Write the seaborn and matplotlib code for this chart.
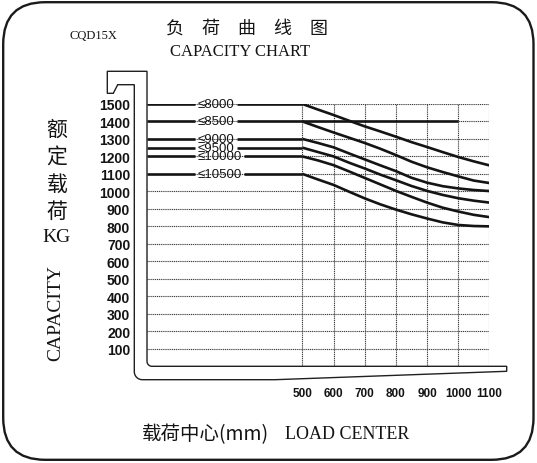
import numpy as np
import pandas as pd
import matplotlib
matplotlib.use("Agg")
import matplotlib.pyplot as plt
import matplotlib.patches as mpatches
from matplotlib.transforms import IdentityTransform
import seaborn as sns

# ---------------- data ----------------
LOAD_CENTER = [500, 550, 600, 650, 700, 750, 800, 850, 900, 950, 1000, 1050, 1100]
SERIES_LABELS = ["≤8000", "≤8500", "≤9000", "≤9500", "≤10000", "≤10500"]
CAP_8000 = [1500, 1468, 1437, 1404, 1372, 1343, 1313, 1282, 1254, 1225, 1197, 1172, 1149]
CAP_8500 = [1400, 1368, 1337, 1307, 1277, 1244, 1208, 1170, 1138, 1111, 1086, 1062, 1048]
CAP_9000 = [1300, 1277, 1252, 1217, 1183, 1149, 1116, 1078, 1050, 1030, 1017, 1008, 1002]
CAP_9500 = [1250, 1225, 1200, 1164, 1131, 1096, 1064, 1031, 1003, 980, 961, 947, 936]
CAP_10000 = [1200, 1177, 1150, 1114, 1077, 1040, 1003, 969, 936, 907, 885, 866, 853]
CAP_10500 = [1100, 1068, 1037, 998, 960, 926, 896, 869, 845, 823, 808, 802, 800]
FLAT_8500_END = 1000

X_TICKS = [500, 600, 700, 800, 900, 1000, 1100]
Y_TICKS = [100, 200, 300, 400, 500, 600, 700, 800, 900, 1000,
           1100, 1200, 1300, 1400, 1500]

MODEL = "CQD15X"
TITLE_CN = "负\u3000荷\u3000曲\u3000线\u3000图"
TITLE_EN = "CAPACITY CHART"
YLABEL_CN = ["额", "定", "载", "荷"]
YLABEL_UNIT = "KG"
YLABEL_EN = "CAPACITY"
XLABEL_CN = "载荷中心(mm)"
XLABEL_EN = "LOAD CENTER"

CAPS = [CAP_8000, CAP_8500, CAP_9000, CAP_9500, CAP_10000, CAP_10500]

# ---------------- style ----------------
W, H = 537, 464
sns.set_theme(style="white")
plt.rcParams["font.family"] = ["Liberation Sans", "DejaVu Sans"]
CJK = ["Noto Sans CJK SC", "DejaVu Sans"]
SERIF = ["Liberation Serif", "DejaVu Serif"]
INK = "#141414"
LW = 1.9

fig = plt.figure(figsize=(W / 100, H / 100), dpi=100)
fig.patch.set_facecolor("white")

X0, X1, Y0, Y1 = 146.8, 489.3, 367.2, 105.0   # pixel positions of axes box
ax = fig.add_axes([X0 / W, 1 - Y0 / H, (X1 - X0) / W, (Y0 - Y1) / H])
ax.set_facecolor("none")

# curves 500-1100
rows = []
for lab, caps in zip(SERIES_LABELS, CAPS):
    for x, y in zip(LOAD_CENTER, caps):
        rows.append({"series": lab, "load_center": x, "capacity": y})
df = pd.DataFrame(rows)
sns.lineplot(data=df, x="load_center", y="capacity", hue="series",
             palette=[INK] * len(SERIES_LABELS), estimator=None, sort=False,
             legend=False, linewidth=LW, ax=ax)
for line in ax.lines:
    line.set_solid_capstyle("butt")
    line.set_solid_joinstyle("round")

# flat extension of the 8500 line
ax.plot([LOAD_CENTER[0], FLAT_8500_END], [CAP_8500[0], CAP_8500[0]],
        color=INK, lw=LW, solid_capstyle="butt")

ax.set_xlim(0, 1100)
ax.set_ylim(0, 1500)
ax.set_xlabel("")
ax.set_ylabel("")
for s in ax.spines.values():
    s.set_visible(False)
ax.set_xticks(X_TICKS)
ax.set_yticks(Y_TICKS)
ax.set_xticklabels([str(v) for v in X_TICKS], fontsize=8.5, fontweight="bold",
                   color=INK)
ax.set_yticklabels([str(v) for v in Y_TICKS], fontsize=10, fontweight="bold",
                   color=INK)
ax.tick_params(axis="x", length=0, pad=15)
ax.tick_params(axis="y", length=0, pad=12)
ax.grid(True, color="#3a3a3a", linestyle=(0, (1.0, 0.7)), linewidth=0.8)
ax.set_axisbelow(True)

# flat parts 0-500 with in-line labels
LABEL_X = 164
fig.canvas.draw()
renderer = fig.canvas.get_renderer()
inv = ax.transData.inverted()
for lab, caps in zip(SERIES_LABELS, CAPS):
    t = ax.text(LABEL_X, caps[0], lab, ha="left", va="center", fontsize=9.5,
                color=INK, family=["Liberation Sans", "DejaVu Sans"])
    bb = t.get_window_extent(renderer)
    xa = inv.transform((bb.x0 - 3, 0))[0]
    xb = inv.transform((bb.x1 + 2, 0))[0]
    ax.plot([0, xa], [caps[0], caps[0]], color=INK, lw=LW,
            solid_capstyle="butt")
    ax.plot([xb, LOAD_CENTER[0]], [caps[0], caps[0]], color=INK, lw=LW,
            solid_capstyle="butt")


# ---------------- fork outline (decoration, pixel space) ----------------
def arc(cx, cy, r, t0, t1, n=10):
    t = np.linspace(t0, t1, n)
    return list(zip(cx + r * np.cos(t), cy + r * np.sin(t)))


pts = [(107.3, 72.3), (147.0, 72.3)]
pts += arc(152.0, 362.3, 5.0, np.pi, np.pi / 2)
pts += [(506.7, 367.3), (506.7, 372.3), (275.0, 380.7)]
pts += arc(142.3, 372.7, 8.0, np.pi / 2, np.pi)
pts += [(134.3, 85.7), (117.7, 85.7), (113.3, 94.3), (107.3, 94.3)]
pts = [(px, H - py) for px, py in pts]
fork = mpatches.Polygon(pts, closed=True, fill=False, edgecolor="#202020",
                        lw=1.0, transform=IdentityTransform())
fig.add_artist(fork)

border = mpatches.FancyBboxPatch((3.2, 3.2), 530.3, 457.6,
                                 boxstyle="round,pad=0,rounding_size=42",
                                 fill=False, edgecolor="#1a1a1a", lw=1.7,
                                 transform=IdentityTransform())
fig.add_artist(border)


# ---------------- texts ----------------
def ftxt(px, py, s, **kw):
    return fig.text(px / W, 1 - py / H, s, color=INK, **kw)


ftxt(93.5, 36, MODEL, ha="center", va="center", fontsize=9, family=SERIF)
ftxt(247, 29, TITLE_CN, ha="center", va="center", fontsize=13, family=CJK)
ftxt(240, 52, TITLE_EN, ha="center", va="center", fontsize=12, family=SERIF)

for i, ch in enumerate(YLABEL_CN):
    ftxt(57, 130 + 27.3 * i, ch, ha="center", va="center", fontsize=15,
         family=CJK)
ftxt(57, 238, YLABEL_UNIT, ha="center", va="center", fontsize=14,
     family=SERIF)
ftxt(56, 313, YLABEL_EN, ha="center", va="center", fontsize=14,
     family=SERIF, rotation=90)

ftxt(141.7, 435, XLABEL_CN, ha="left", va="center", fontsize=14, family=CJK)
ftxt(285, 435, XLABEL_EN, ha="left", va="center", fontsize=13, family=SERIF)

fig.savefig("out.png", dpi=100, facecolor="white")
